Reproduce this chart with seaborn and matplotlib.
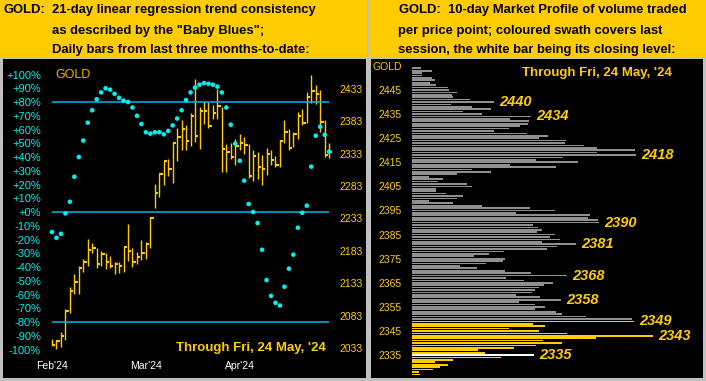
import matplotlib
matplotlib.use("Agg")
import matplotlib.pyplot as plt
from matplotlib.patches import Rectangle
import pandas as pd
import seaborn as sns

# Left panel: daily bars, 26 Feb .. 24 May 2024 (high / low / close)
bar_high = [2047, 2045, 2058, 2094, 2127, 2148, 2160, 2170, 2201, 2195,
            2188, 2183, 2179, 2175, 2165, 2165, 2189, 2224, 2187, 2181,
            2200, 2196, 2235, 2286, 2301, 2322, 2325, 2351, 2372, 2385,
            2377, 2395, 2448, 2405, 2414, 2413, 2408, 2432, 2405, 2348,
            2350, 2356, 2364, 2358, 2348, 2339, 2335, 2331, 2341, 2339,
            2329, 2354, 2385, 2371, 2366, 2397, 2402, 2428, 2454, 2439,
            2431, 2385, 2349]
bar_low = [2036, 2032, 2035, 2045, 2087, 2116, 2116, 2151, 2160, 2180,
           2156, 2160, 2155, 2157, 2148, 2149, 2151, 2168, 2158, 2163,
           2169, 2171, 2187, 2249, 2266, 2285, 2298, 2287, 2322, 2339,
           2338, 2344, 2351, 2340, 2379, 2372, 2387, 2386, 2305, 2305,
           2324, 2315, 2338, 2332, 2296, 2291, 2294, 2285, 2300, 2315,
           2312, 2313, 2350, 2338, 2343, 2356, 2377, 2380, 2411, 2409,
           2367, 2328, 2327]
bar_close = [2038, 2044, 2052, 2090, 2121, 2135, 2156, 2166, 2185, 2188,
             2163, 2178, 2166, 2159, 2163, 2160, 2189, 2183, 2166, 2174,
             2179, 2193, 2234, 2273, 2301, 2321, 2309, 2350, 2359, 2371,
             2353, 2391, 2360, 2399, 2399, 2376, 2395, 2407, 2340, 2336,
             2328, 2345, 2350, 2347, 2298, 2329, 2313, 2309, 2332, 2323,
             2315, 2353, 2367, 2342, 2364, 2391, 2381, 2421, 2430, 2425,
             2382, 2331, 2335]
# "Baby Blues": 21-day linear regression trend consistency, in %
baby_blues = [-14.5, -18.7, -15.8, -1, 7.5, 25.7, 40, 52, 65, 74,
              82, 87, 90, 89, 86, 83, 81, 80, 76, 70,
              64, 58, 57, 58, 58, 56.5, 59, 63, 68, 74,
              81.5, 87, 90.5, 92.6, 93.8, 93.3, 92.6, 91.2, 87, 76,
              63.5, 49.7, 37.3, 22.8, 5.8, 0, -8, -27.4, -49.5, -61,
              -66, -68, -54.3, -41.2, -31, -11.4, -0.5, 4.6, 33, 55.5,
              62, 56.2, 43.9]
month_labels = ["Feb'24", "Mar'24", "Apr'24"]
month_ticks = [0, 21, 42]
pct_ticks = list(range(100, -101, -10))
price_ticks = [2033, 2083, 2133, 2183, 2233, 2283, 2333, 2383, 2433]
trend_levels = [80, 0, -80]

# Right panel: 10-day market profile, one bar per price point (top to bottom)
profile_prices = list(range(2454, 2326, -1))
profile_volume = [9, 20, 10, 10, 20, 23, 18, 24, 36, 37,
                  45, 40, 41, 58, 82, 39, 60, 79, 51, 70,
                  119, 98, 117, 116, 108, 97, 82, 115, 136, 127,
                  154, 153, 172, 185, 223, 185, 224, 151, 124, 166,
                  98, 144, 60, 79, 45, 17, 31, 26, 55, 60,
                  24, 24, 34, 51, 45, 17, 41, 70, 118, 143,
                  104, 178, 176, 186, 187, 121, 126, 130, 125, 143,
                  138, 148, 130, 164, 145, 135, 92, 77, 62, 93,
                  91, 74, 48, 65, 93, 119, 155, 94, 112, 141,
                  132, 127, 123, 120, 104, 128, 149, 107, 123, 133,
                  123, 144, 150, 174, 220, 222, 121, 133, 97, 127,
                  155, 241, 184, 131, 150, 124, 102, 66, 73, 122,
                  89, 41, 23, 36, 28, 21, 7, 8]
session_low, session_high = 2327, 2349
close_level = 2335
peak_prices = [2440, 2434, 2418, 2390, 2381, 2368, 2358, 2349, 2343, 2335]
profile_ticks = [2335, 2345, 2355, 2365, 2375, 2385, 2395, 2405, 2415, 2425, 2435, 2445]

GOLD = "#FFCC00"
CYAN = "#00F0F0"
LINE_BLUE = "#00B4F0"
FRAME = "#C0C0C0"

W, H = 706, 381


def box(x0, y0, x1, y1):
    """Pixel box measured from the top-left corner -> figure fraction [l, b, w, h]."""
    return [x0 / W, 1 - y1 / H, (x1 - x0) / W, (y1 - y0) / H]


def add_rect(fig, x0, y0, x1, y1, color):
    l, b, w, h = box(x0, y0, x1, y1)
    fig.add_artist(Rectangle((l, b), w, h, transform=fig.transFigure,
                             facecolor=color, edgecolor="none", zorder=-1))


def style_axes(ax):
    ax.set_facecolor("none")
    for spine in ax.spines.values():
        spine.set_visible(False)
    ax.grid(False)


sns.set_theme(style="white")
plt.rcParams["font.family"] = ["Liberation Sans", "DejaVu Sans"]

fig = plt.figure(figsize=(W / 100, H / 100), dpi=100, facecolor=FRAME)

# header strips and black panels
add_rect(fig, 0, 0, 367, 57, GOLD)
add_rect(fig, 370, 0, 706, 57, GOLD)
add_rect(fig, 3, 59, 366, 378, "black")
add_rect(fig, 371, 59, 703, 378, "black")

head = dict(fontsize=9.4, fontweight="bold", color="black", va="center")
fig.text(4 / W, 1 - 10 / H, "GOLD:", **head)
fig.text(52 / W, 1 - 10 / H, "21-day linear regression trend consistency", **head)
fig.text(52 / W, 1 - 31 / H, 'as described by the "Baby Blues";', **head)
fig.text(52 / W, 1 - 50 / H, "Daily bars from last three months-to-date:", **head)
fig.text(399 / W, 1 - 10 / H, "GOLD:  10-day Market Profile of volume traded", **head)
fig.text(398 / W, 1 - 31 / H, "per price point; coloured swath covers last", **head)
fig.text(398 / W, 1 - 50 / H, "session, the white bar being its closing level:", **head)

# ---- left panel: price bars + Baby Blues
ax_px = fig.add_axes(box(44, 62, 334, 356))
style_axes(ax_px)
days = list(range(len(bar_close)))
ax_px.vlines(days, bar_low, bar_high, color=GOLD, lw=1.0)
ax_px.hlines(bar_close, days, [d + 0.75 for d in days], color=GOLD, lw=1.5)
ax_px.set_xlim(-1.79, 63.09)
ax_px.set_ylim(2020.7, 2474.4)
ax_px.set_xticks(month_ticks, month_labels)
ax_px.tick_params(axis="x", length=0, pad=3.6, labelsize=7.5, labelcolor="white")

ax_pct = ax_px.twinx()
style_axes(ax_pct)
ax_pct.hlines(trend_levels, 0, len(days) - 1, color=LINE_BLUE, lw=1.1)
sns.scatterplot(x=days, y=baby_blues, ax=ax_pct, color=CYAN, s=11,
                edgecolor="none", linewidth=0, zorder=4)
ax_pct.set_ylim(-104.7, 109.1)
ax_pct.set_ylabel("")

# twinx moves ticks around, so fix the sides afterwards
ax_px.yaxis.set_ticks_position("right")
ax_px.set_yticks(price_ticks, [str(p) for p in price_ticks])
ax_px.tick_params(axis="y", length=0, pad=3.6, labelsize=7.5, labelcolor=GOLD,
                  labelleft=False, labelright=True)
ax_pct.yaxis.set_ticks_position("left")
ax_pct.set_yticks(pct_ticks, [f"{v:+d}%" for v in pct_ticks])
ax_pct.tick_params(axis="y", length=0, pad=2.2, labelsize=8, labelcolor=CYAN,
                   labelleft=True, labelright=False)

fig.text(55 / W, 1 - 75.5 / H, "GOLD", color="#E8B400", fontsize=9, va="center")
fig.text(326 / W, 1 - 348 / H, "Through Fri, 24 May, '24", color=GOLD,
         fontsize=9.5, fontweight="bold", ha="right", va="center")

# ---- right panel: market profile
swath = []
for p in profile_prices:
    if p == close_level:
        swath.append("close")
    elif session_low <= p <= session_high:
        swath.append("session")
    else:
        swath.append("prior")
profile = pd.DataFrame({"price": profile_prices, "volume": profile_volume, "swath": swath})

ax_mp = fig.add_axes(box(412, 62, 703, 378))
style_axes(ax_mp)
sns.barplot(data=profile, x="volume", y="price", hue="swath", orient="h",
            native_scale=True, dodge=False, width=0.7, saturation=1,
            palette={"prior": "#909090", "session": GOLD, "close": "white"},
            errorbar=None, legend=False, linewidth=0, ax=ax_mp)
ax_mp.set_xlim(0, 291)
ax_mp.set_ylim(2325.5, 2456.6)
ax_mp.set_xticks([])
ax_mp.set_yticks(profile_ticks + [2455], [str(p) for p in profile_ticks] + ["GOLD"])
ax_mp.tick_params(axis="y", length=0, pad=7.2, labelsize=7.5, labelcolor=GOLD)
ax_mp.set_xlabel("")
ax_mp.set_ylabel("")

vol_at = dict(zip(profile_prices, profile_volume))
for p in peak_prices:
    ax_mp.annotate(str(p), (vol_at[p], p), xytext=(3.5, 0), textcoords="offset points",
                   ha="left", va="center", color=GOLD, fontsize=10.5,
                   fontweight="bold", fontstyle="italic")

fig.text(672 / W, 1 - 73 / H, "Through Fri, 24 May, '24", color=GOLD,
         fontsize=9.5, fontweight="bold", ha="right", va="center")

fig.savefig("out.png", dpi=100, facecolor=fig.get_facecolor())
